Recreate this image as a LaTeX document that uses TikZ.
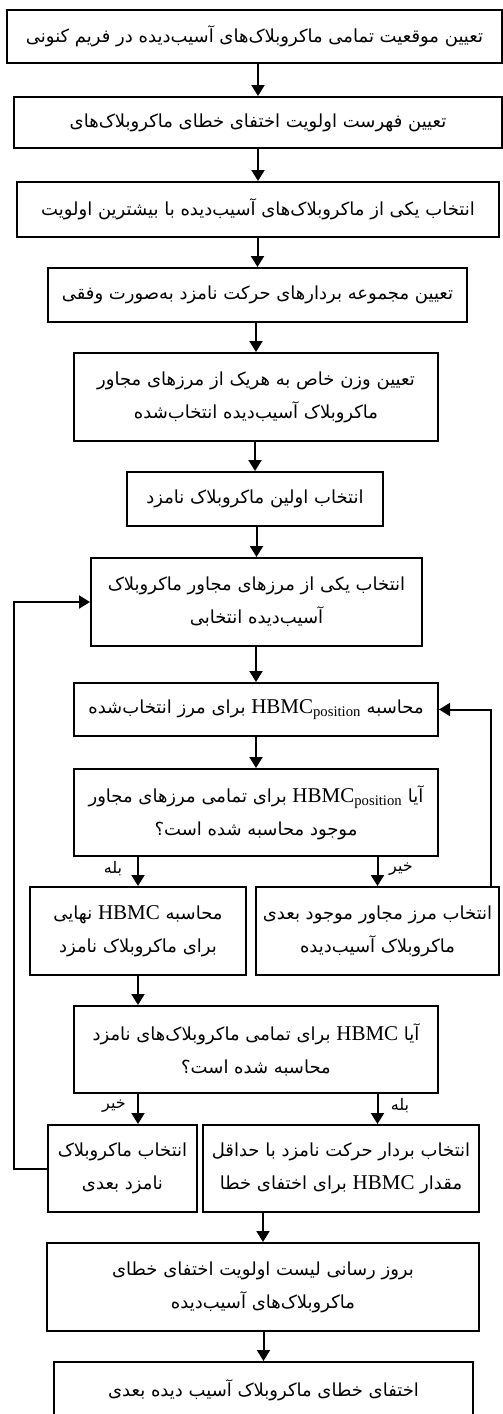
\documentclass[tikz,border=0pt]{standalone}
\usepackage{fontspec}
\setmainfont{Liberation Serif}
\newfontfamily\farsi[Script=Arabic]{DejaVu Sans}
\TeXXeTstate=1
\usetikzlibrary{arrows.meta}
\newcommand{\fa}[1]{{\farsi\beginR #1\endR}}
\newcommand{\hbmc}{\beginL{\rmfamily\fontsize{21pt}{32pt}\selectfont HBMC}\endL}
\newcommand{\hbmcpos}{\beginL{\rmfamily\fontsize{21pt}{32pt}\selectfont HBMC\textsubscript{position}}\endL}
\begin{document}
\begin{tikzpicture}[x=1pt, y=-1pt,
  box/.style={draw, line width=2pt, inner sep=0pt, align=center,
    font=\fontsize{18pt}{33pt}\selectfont},
  arr/.style={line width=2pt, -{Triangle[width=13pt,length=11pt]}},
  lbl/.style={font=\fontsize{16pt}{18pt}\selectfont, inner sep=0pt}]

\useasboundingbox (0,0) rectangle (503,1414);

\node [box, minimum width=495pt, minimum height=53pt] (b1) at (254.5,36.5) {\fa{تعیین موقعیت تمامی ماکروبلاک‌های آسیب‌دیده در فریم کنونی}};
\node [box, minimum width=488pt, minimum height=51pt] (b2) at (258,122.5) {\fa{تعیین فهرست اولویت اختفای خطای ماکروبلاک‌های}};
\node [box, minimum width=482pt, minimum height=55pt] (b3) at (258,209.5) {\fa{انتخاب یکی از ماکروبلاک‌های آسیب‌دیده با بیشترین اولویت}};
\node [box, minimum width=419pt, minimum height=54pt] (b4) at (257.5,295) {\fa{تعیین مجموعه بردارهای حرکت نامزد به‌صورت وفقی}};
\node [box, minimum width=364pt, minimum height=88pt] (b5) at (256,397) {\fa{تعیین وزن خاص به هریک از مرزهای مجاور}\\\fa{ماکروبلاک آسیب‌دیده انتخاب‌شده}};
\node [box, minimum width=256pt, minimum height=54pt] (b6) at (255,499) {\fa{انتخاب اولین ماکروبلاک نامزد}};
\node [box, minimum width=331pt, minimum height=88pt] (b7) at (256.5,602) {\fa{انتخاب یکی از مرزهای مجاور ماکروبلاک}\\\fa{آسیب‌دیده انتخابی}};
\node [box, minimum width=364pt, minimum height=53pt] (b8) at (256,709.5) {\fa{محاسبه \hbmcpos{} برای مرز انتخاب‌شده}};
\node [box, minimum width=364pt, minimum height=87pt] (b9) at (256,812.5) {\fa{آیا \hbmcpos{} برای تمامی مرزهای مجاور}\\\fa{موجود محاسبه شده است؟}};
\node [box, minimum width=216pt, minimum height=88pt] (b10) at (138,931) {\fa{محاسبه \hbmc{} نهایی}\\\fa{برای ماکروبلاک نامزد}};
\node [box, minimum width=243pt, minimum height=88pt] (b11) at (377.5,931) {\fa{انتخاب مرز مجاور موجود بعدی}\\\fa{ماکروبلاک آسیب‌دیده}};
\node [box, minimum width=364pt, minimum height=87pt] (b12) at (256,1049.5) {\fa{آیا \hbmc{} برای تمامی ماکروبلاک‌های نامزد}\\\fa{محاسبه شده است؟}};
\node [box, minimum width=149pt, minimum height=87pt] (b13) at (122.5,1168.5) {\fa{انتخاب ماکروبلاک}\\\fa{نامزد بعدی}};
\node [box, minimum width=276pt, minimum height=87pt] (b14) at (341,1168.5) {\fa{انتخاب بردار حرکت نامزد با حداقل}\\\fa{مقدار \hbmc{} برای اختفای خطا}};
\node [box, minimum width=432pt, minimum height=88pt] (b15) at (263,1287) {\fa{بروز رسانی لیست اولویت اختفای خطای}\\\fa{ماکروبلاک‌های آسیب‌دیده}};
\node [box, minimum width=419pt, minimum height=56pt] (b16) at (263.5,1390) {\fa{اختفای خطای ماکروبلاک آسیب دیده بعدی}};

% branch labels
\node [lbl] (yes1) at (113,869) {\fa{بله}};
\node [lbl] (no1) at (401,869) {\fa{خیر}};
\node [lbl] (no2) at (114,1106) {\fa{خیر}};
\node [lbl] (yes2) at (400,1106) {\fa{بله}};

\coordinate (lft) at (14,0);
\coordinate (rgt) at (491,0);

\draw [arr] (b1.south -| b2.north) -- (b2.north);
\draw [arr] (b2.south) -- (b3.north);
\draw [arr] (b3.south -| b4.north) -- (b4.north);
\draw [arr] (b4.south -| b5.north) -- (b5.north);
\draw [arr] (b5.south -| b6.north) -- (b6.north);
\draw [arr] (b6.south -| b7.north) -- (b7.north);
\draw [arr] (b7.south -| b8.north) -- (b8.north);
\draw [arr] (b8.south) -- (b9.north);
\draw [arr] (b9.south -| b10.north) -- (b10.north);
\draw [arr] (b9.south -| b11.north) -- (b11.north);
\draw [arr] (b10.south) -- (b10.south |- b12.north);
\draw [arr] (b12.south -| b10.south) -- (b10.south |- b13.north);
\draw [arr] (b12.south -| b11.south) -- (b11.south |- b14.north);
\draw [arr] (b14.south -| b15.north) -- (b15.north);
\draw [arr] (b15.south -| b16.north) -- (b16.north);

\draw [arr] (b13.west) -- (b13.west -| lft) |- (b7.west);
\draw [arr] (b11.north -| rgt) |- (b8.east);
\end{tikzpicture}
\end{document}
